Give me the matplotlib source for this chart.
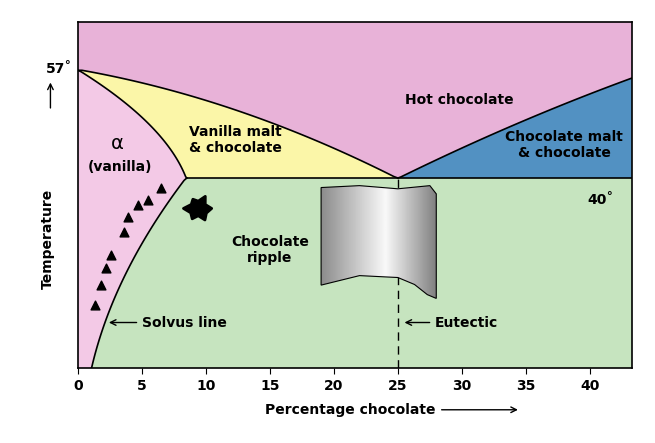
import numpy as np
import matplotlib.pyplot as plt
from matplotlib.patches import Polygon

# phase boundaries (percentage chocolate, temperature)
liq_left_x = [0, 5, 10, 15, 20, 25]
liq_left_t = [57, 55.2, 52.3, 48.7, 44.6, 40]
liq_right_x = [25, 30, 35, 40, 43.3]
liq_right_t = [40, 44.6, 49.2, 53.4, 55.7]
solidus_t = [57, 54, 50, 46, 43, 40]
solidus_x = [0, 2.4, 4.8, 6.6, 7.7, 8.5]
solvus_t = [40, 35, 30, 25, 20, 15, 10]
solvus_x = [8.5, 6.6, 5.0, 3.8, 2.7, 1.8, 1.0]
tri_x = [1.3, 1.8, 2.2, 2.6, 3.6, 3.9, 4.7, 5.5, 6.5]
tri_t = [20.0, 23.1, 25.8, 27.9, 31.5, 33.9, 35.7, 36.5, 38.4]
xticks = [0, 5, 10, 15, 20, 25, 30, 35, 40]

XMAX, TMIN, TMAX, TEUT = 43.3, 10, 64.6, 40

pink = "#e8b2d8"
alpha_c = "#f3c9e6"
yellow = "#fbf6a8"
blue = "#5291c2"
green = "#c6e4bf"


def smooth(xs, ys, n=80):
    # quadratic fit through the read points, just to round the line off
    c = np.polyfit(xs, ys, 2)
    xx = np.linspace(xs[0], xs[-1], n)
    return xx, np.polyval(c, xx)


lx, lt = smooth(liq_left_x, liq_left_t)
rx, rt = smooth(liq_right_x, liq_right_t)
st, sx = smooth(solidus_t[::-1], solidus_x[::-1])   # x as function of T
vt, vx = smooth(solvus_t[::-1], solvus_x[::-1])
lt[0], lt[-1], rt[0] = 57, TEUT, TEUT
sx[0], sx[-1], vx[-1] = 8.5, 0, 8.5

fig = plt.figure(figsize=(6.55, 4.43), dpi=100)
ax = fig.add_axes([0.119, 0.169, 0.846, 0.781])
ax.set_xlim(0, XMAX)
ax.set_ylim(TMIN, TMAX)
ax.set_facecolor(pink)

g = [(XMAX, TEUT), (XMAX, TMIN)] + list(zip(vx, vt))
ax.add_patch(Polygon(g, closed=True, fc=green, ec="none"))
a = [(0, TMIN)] + list(zip(vx, vt)) + list(zip(sx, st))
ax.add_patch(Polygon(a, closed=True, fc=alpha_c, ec="none"))
ypts = list(zip(lx, lt)) + list(zip(sx, st))
ax.add_patch(Polygon(ypts, closed=True, fc=yellow, ec="none"))
ax.add_patch(Polygon(list(zip(rx, rt)) + [(XMAX, TEUT)], closed=True, fc=blue, ec="none"))

lw = 1.2
ax.plot(lx, lt, color="k", lw=lw)
ax.plot(rx, rt, color="k", lw=lw)
ax.plot(sx, st, color="k", lw=lw)
ax.plot(vx, vt, color="k", lw=lw)
ax.plot([8.5, XMAX], [TEUT, TEUT], color="k", lw=lw)
ax.plot([25, 25], [TMIN, TEUT], color="k", lw=1, ls=(0, (6, 4)))
ax.scatter(tri_x, tri_t, marker="^", s=40, color="k", zorder=5)

# black blob
ang = np.linspace(0, 2 * np.pi, 13)[:-1]
rad = np.array([1, 0.6, 1.05, 0.55, 0.8, 0.6, 1.1, 0.65, 0.9, 0.55, 1.0, 0.7])
ax.add_patch(Polygon(np.c_[9.4 + 1.05 * rad * np.cos(ang), 35.2 + 2.1 * rad * np.sin(ang)],
                     closed=True, fc="k", ec="k", lw=2, joinstyle="round", zorder=5))

# curled grey sheet
sheet = [(19, 38.5), (22, 38.8), (25, 38.3), (27.5, 38.8), (28, 37.5), (28, 21),
         (27.3, 21.6), (26.3, 23.2), (25, 24.3), (22, 24.6), (19, 23.1)]
sp = Polygon(sheet, closed=True, fc="none", ec="k", lw=0.8, zorder=6)
ax.add_patch(sp)
grad = np.tile(np.concatenate([np.linspace(0.55, 0.97, 50), np.linspace(0.97, 0.5, 40)]), (10, 1))
im = ax.imshow(grad, cmap="gray", vmin=0, vmax=1, extent=[19, 28, 21, 38.8],
               aspect="auto", zorder=5)
im.set_clip_path(sp)

fs = 10
kw = dict(fontsize=fs, fontweight="bold", ha="center", va="center")
ax.text(29.8, 52.3, "Hot chocolate", **kw)
ax.text(12.3, 46, "Vanilla malt\n& chocolate", **kw)
ax.text(38, 45.2, "Chocolate malt\n& chocolate", **kw)
ax.text(3.1, 45.4, "α", fontsize=14, ha="center", va="center")
ax.text(3.3, 41.7, "(vanilla)", **kw)
ax.text(15, 28.6, "Chocolate\nripple", **kw)
ax.text(40.8, 36.6, "40˚", **kw)
ax.annotate("", xy=(2.2, 17.2), xytext=(4.8, 17.2),
            arrowprops=dict(arrowstyle="->", color="k", lw=1))
ax.text(5, 17.2, "Solvus line", fontsize=fs, fontweight="bold", va="center")
ax.annotate("", xy=(25.3, 17.2), xytext=(27.7, 17.2),
            arrowprops=dict(arrowstyle="->", color="k", lw=1))
ax.text(27.9, 17.2, "Eutectic", fontsize=fs, fontweight="bold", va="center")

ax.set_xticks(xticks)
ax.set_xticklabels([str(v) for v in xticks], fontsize=10, fontweight="bold")
ax.set_yticks([])
ax.tick_params(axis="x", length=4)
for s in ax.spines.values():
    s.set_linewidth(1.2)

fig.text(0.09, 0.845, "57˚", fontsize=10, fontweight="bold", ha="center", va="center")
fig.text(0.073, 0.46, "Temperature", fontsize=10, fontweight="bold", rotation=90,
         ha="center", va="center")
fig.text(0.535, 0.075, "Percentage chocolate", fontsize=10, fontweight="bold",
         ha="center", va="center")
ax.annotate("", xy=(0.795, 0.075), xytext=(0.67, 0.075), xycoords="figure fraction",
            arrowprops=dict(arrowstyle="->", color="k", lw=1))
ax.annotate("", xy=(0.077, 0.82), xytext=(0.077, 0.75), xycoords="figure fraction",
            arrowprops=dict(arrowstyle="->", color="k", lw=1))

fig.savefig("out.png", dpi=100)
